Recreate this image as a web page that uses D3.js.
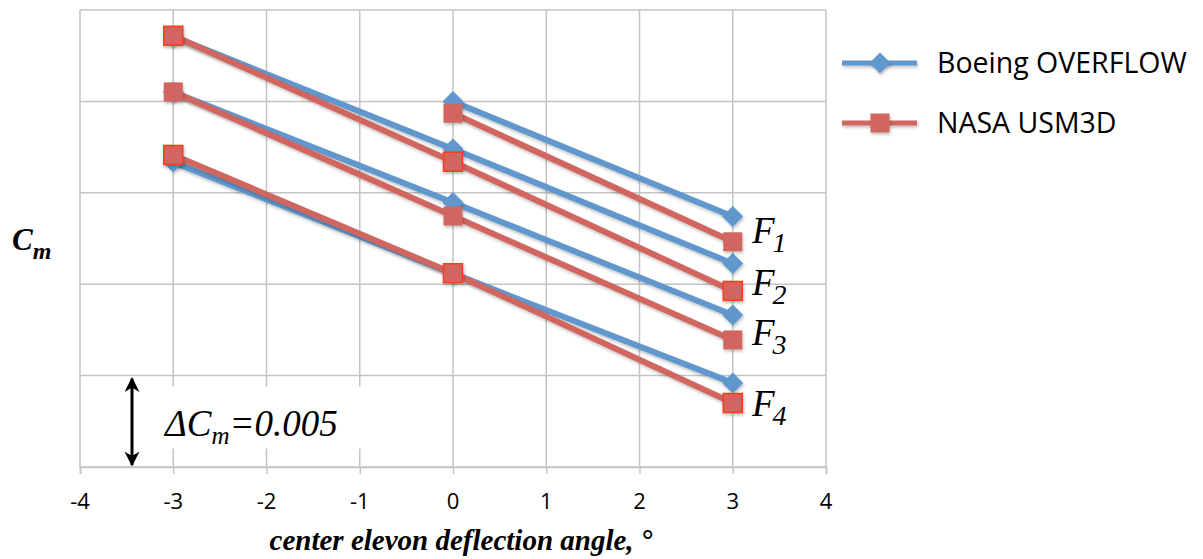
<!DOCTYPE html>
<html><head><meta charset="utf-8">
<script src="https://cdn.jsdelivr.net/npm/d3@7/dist/d3.min.js"></script>
<style>body{margin:0;background:#fff}svg{display:block}</style>
</head><body><div id="chart"></div>
<script>
// ---- data ----
const xTicks = [-4, -3, -2, -1, 0, 1, 2, 3, 4];
const xTickLabels = ["-4", "-3", "-2", "-1", "0", "1", "2", "3", "4"];
const configs = ["F1", "F2", "F3", "F4"];
const angles = [-3, 0, 3];
// Cm relative values (one grid step = 0.005); null = no point
const boeingF1 = [null, 0.0200, 0.01370];
const boeingF2 = [0.02355, 0.01740, 0.01113];
const boeingF3 = [0.02051, 0.01447, 0.00832];
const boeingF4 = [0.01668, 0.01058, 0.00460];
const nasaF1 = [null, 0.01935, 0.01232];
const nasaF2 = [0.02359, 0.01670, 0.00963];
const nasaF3 = [0.02052, 0.01373, 0.00695];
const nasaF4 = [0.01707, 0.01060, 0.00350];
const seriesNames = ["Boeing OVERFLOW", "NASA USM3D"];
const deltaLabel = 0.005;

const boeing = [boeingF1, boeingF2, boeingF3, boeingF4];
const nasa = [nasaF1, nasaF2, nasaF3, nasaF4];

const W = 1203, H = 559;
const m = {left: 80, right: 377, top: 10, bottom: 92};
const svg = d3.select("#chart").append("svg").attr("width", W).attr("height", H);

const x = d3.scaleLinear().domain([-4, 4]).range([m.left, W - m.right]);
const y = d3.scaleLinear().domain([0, 0.025]).range([H - m.bottom, m.top]);
const yTicks = d3.range(0, 0.0251, 0.005);

const BLUE = "#6197cc", RED = "#d0665e", REDSTROKE = "#ff3a1e", GRID = "#c4c4c4";

const defs = svg.append("defs");
const f = defs.append("filter").attr("id", "sh").attr("filterUnits", "userSpaceOnUse")
  .attr("x", -2000).attr("y", -2000).attr("width", 5000).attr("height", 5000);
f.append("feDropShadow").attr("dx", 1).attr("dy", 2).attr("stdDeviation", 1.5).attr("flood-color", "#000").attr("flood-opacity", 0.25);

// grid
const g = svg.append("g");
g.selectAll(".vg").data(xTicks).join("line")
  .attr("x1", d => x(d)).attr("x2", d => x(d)).attr("y1", y(0.025)).attr("y2", y(0))
  .attr("stroke", GRID).attr("stroke-width", 1.5);
g.selectAll(".hg").data(yTicks).join("line")
  .attr("x1", x(-4)).attr("x2", x(4)).attr("y1", d => y(d)).attr("y2", d => y(d))
  .attr("stroke", GRID).attr("stroke-width", 1.5);

// x axis (ticks + domain from d3.axis, labels as explicit text)
const xAxis = svg.append("g").attr("transform", `translate(0,${y(0)})`)
  .call(d3.axisBottom(x).tickValues(xTicks).tickSize(7).tickFormat(""));
xAxis.select(".domain").attr("stroke", GRID).attr("stroke-width", 1.5);
xAxis.selectAll(".tick line").attr("stroke", GRID).attr("stroke-width", 1.5);
svg.append("g").selectAll("text").data(xTicks).join("text")
  .attr("x", d => x(d)).attr("y", 509).attr("text-anchor", "middle")
  .attr("font-family", "Open Sans, sans-serif").attr("font-size", 22).attr("fill", "#000")
  .text((d, i) => xTickLabels[i]);

// delta box
const bx = svg.append("g");
bx.append("rect").attr("x", 150).attr("y", y(0.005) + 11).attr("width", 220).attr("height", 62).attr("fill", "#fff");
defs.append("marker").attr("id", "ah").attr("viewBox", "0 0 10 10").attr("refX", 9).attr("refY", 5)
  .attr("markerWidth", 5).attr("markerHeight", 5).attr("orient", "auto-start-reverse")
  .append("path").attr("d", "M0,0 L10,5 L0,10 L3,5 Z").attr("fill", "#000");
bx.append("line").attr("x1", 132).attr("x2", 132).attr("y1", y(deltaLabel) + 3).attr("y2", y(0) - 2)
  .attr("stroke", "#000").attr("stroke-width", 3).attr("marker-start", "url(#ah)").attr("marker-end", "url(#ah)");
const dt = bx.append("text").attr("x", 165).attr("y", 436).attr("font-family", "Liberation Serif, serif")
  .attr("font-style", "italic").attr("font-size", 37).attr("fill", "#000");
dt.append("tspan").text("ΔC");
dt.append("tspan").attr("font-size", 25).attr("dy", 8).text("m");
dt.append("tspan").attr("dy", -8).text("=" + deltaLabel.toFixed(3));

// series
const line = d3.line().defined(d => d[1] != null).x(d => x(d[0])).y(d => y(d[1]));
const dia = (cx, cy, r) => `M${cx},${cy - r} L${cx + r},${cy} L${cx},${cy + r} L${cx - r},${cy} Z`;
function drawSeries(sets, color, kind) {
  const sg = svg.append("g");
  sets.forEach((vals, i) => {
    const pts = angles.map((a, j) => [a, vals[j]]);
    sg.append("path").datum(pts).attr("d", line).attr("fill", "none").attr("stroke", color).attr("stroke-width", 6)
      .attr("stroke-linejoin", "round").attr("filter", "url(#sh)");
    const mk = pts.filter(d => d[1] != null);
    if (kind === "d") {
      sg.selectAll(null).data(mk).join("path").attr("d", d => dia(x(d[0]), y(d[1]), 10.5))
        .attr("fill", color).attr("filter", "url(#sh)");
    } else {
      const bordered = (i % 2 === 1);
      sg.selectAll(null).data(mk).join("rect")
        .attr("x", d => x(d[0]) - 9.5).attr("y", d => y(d[1]) - 9.5).attr("width", 19).attr("height", 19)
        .attr("fill", color).attr("stroke", bordered ? REDSTROKE : "none").attr("stroke-width", 1.5).attr("filter", "url(#sh)");
    }
  });
}
drawSeries(boeing, BLUE, "d");
drawSeries(nasa, RED, "s");

// F labels
const labY = [243, 295, 345, 416];
configs.forEach((c, i) => {
  const t = svg.append("text").attr("x", 752).attr("y", labY[i]).attr("font-family", "Liberation Serif, serif")
    .attr("font-style", "italic").attr("font-size", 37).attr("fill", "#000");
  t.append("tspan").text(c[0]);
  t.append("tspan").attr("font-size", 28).attr("dy", 9).attr("dx", -2).text(c.slice(1));
});

// legend
const lg = svg.append("g");
seriesNames.forEach((n, i) => {
  const ly = 63 + i * 60;
  lg.append("line").attr("x1", 842).attr("x2", 917).attr("y1", ly).attr("y2", ly)
    .attr("stroke", i === 0 ? BLUE : RED).attr("stroke-width", 5).attr("filter", "url(#sh)");
  if (i === 0) lg.append("path").attr("d", dia(880, ly, 10.5)).attr("fill", BLUE).attr("filter", "url(#sh)");
  else lg.append("rect").attr("x", 870.5).attr("y", ly - 9.5).attr("width", 19).attr("height", 19).attr("fill", RED).attr("filter", "url(#sh)");
  lg.append("text").attr("x", 937).attr("y", ly + 10).attr("font-family", "Open Sans, sans-serif").attr("font-size", 28.5)
    .attr("fill", "#000").text(n);
});

// axis titles
const yt = svg.append("text").attr("x", 12).attr("y", 250).attr("font-family", "Liberation Serif, serif")
  .attr("font-style", "italic").attr("font-weight", "bold").attr("font-size", 31).attr("fill", "#000");
yt.append("tspan").text("C");
yt.append("tspan").attr("font-size", 24).attr("dy", 9).text("m");
svg.append("text").attr("x", 461).attr("y", 550).attr("text-anchor", "middle").attr("font-family", "Liberation Serif, serif")
  .attr("font-style", "italic").attr("font-weight", "bold").attr("font-size", 29).attr("fill", "#000")
  .text("center elevon deflection angle, °");
</script></body></html>
